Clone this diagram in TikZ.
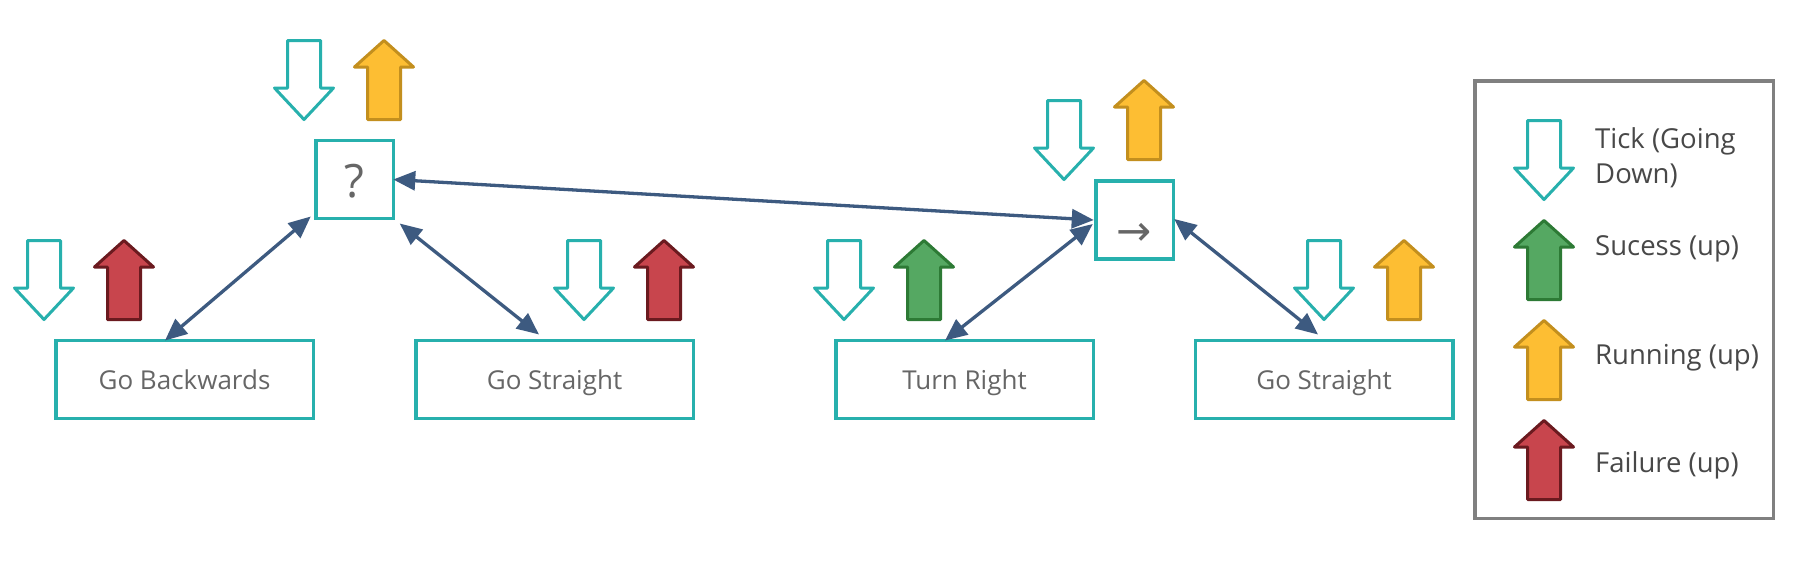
\documentclass[tikz,border=0pt]{standalone}
\usepackage{fontspec}
\setmainfont{Open Sans}
\newfontfamily\symfont{DejaVu Sans}
\usetikzlibrary{arrows.meta,calc}
\definecolor{tealc}{HTML}{27B0AD}
\definecolor{connc}{HTML}{3D5A80}
\definecolor{labelgray}{HTML}{666666}
\definecolor{legtext}{HTML}{484848}
\definecolor{legborder}{HTML}{808080}
\definecolor{yelf}{HTML}{FDBE33}
\definecolor{yeld}{HTML}{C38F1E}
\definecolor{grnf}{HTML}{55A862}
\definecolor{grnd}{HTML}{2D7A35}
\definecolor{redf}{HTML}{C8454D}
\definecolor{redd}{HTML}{6B1A1F}
\tikzset{
  box/.style={draw=tealc, line width=3.5pt, fill=white, inner sep=0pt, outer sep=0pt,
    text=labelgray, font=\fontsize{26}{31}\selectfont, text height=27.8pt, text depth=7.6pt,
    minimum height=78pt},
  conn/.style={draw=connc, line width=3.3pt,
    {Triangle[length=22pt,width=19pt]}-{Triangle[length=22pt,width=19pt]}},
  blk/.style={line width=3pt, line join=round},
  downarr/.pic={\path[blk, draw=tealc, fill=white] (-16.5,1.5) -- (16.5,1.5) -- (16.5,49) -- (29.5,49) -- (0,80.5) -- (-29.5,49) -- (-16.5,49) -- cycle;},
  uparr/.pic={\path[blk, pic actions] (0,1.5) -- (29.5,28) -- (16.5,28) -- (16.5,80.5) -- (-16.5,80.5) -- (-16.5,28) -- (-29.5,28) -- cycle;},
  legtxt/.style={text=legtext, font=\fontsize{27.5}{35}\selectfont, inner sep=0pt, align=left},
}
\begin{document}
\begin{tikzpicture}[x=1pt,y=-1pt]
\path[fill=white] (0,0) rectangle (1816,568);
\useasboundingbox (0,0) rectangle (1816,568);

% tree nodes
\node[box, minimum width=77.5pt, font=\fontsize{46}{55}\selectfont, text height=36pt, text depth=0pt] (q) at (354.5,179.5) {?};
\node[box, minimum width=77.5pt, font=\fontsize{42}{50}\symfont, text height=50pt, text depth=0pt] (seq) at (1134.5,220) {→};
\node[box, minimum width=257.5pt] (gb) at (184.5,379.5) {Go Backwards};
\node[box, minimum width=277.5pt] (gsl) at (554.5,379.5) {Go Straight};
\node[box, minimum width=257.5pt] (tr) at (964.5,379.5) {Turn Right};
\node[box, minimum width=257.5pt] (gsr) at (1324,379.5) {Go Straight};

% connectors
\draw[conn] ($(q.south west)+(-5,-2)$) -- ($(gb.north)+(-19.5,0)$);
\draw[conn] ($(q.south east)+(6.5,5)$) -- ($(gsl.north)+(-15.5,-6)$);
\draw[conn] (q.east) -- ($(seq.west)+(-2,0)$);
\draw[conn] ($(seq.west)+(-3,4)$) -- ($(tr.north)+(-19.5,0)$);
\draw[conn] ($(seq.east)+(1,-1)$) -- ($(gsr.north)+(-6,-6)$);

% status arrows
\pic at (304,39) {downarr};
\pic[draw=yeld, fill=yelf] at (384,39) {uparr};
\pic at (44,239) {downarr};
\pic[draw=redd, fill=redf] at (124,239) {uparr};
\pic at (584,239) {downarr};
\pic[draw=redd, fill=redf] at (664,239) {uparr};
\pic at (844,239) {downarr};
\pic[draw=grnd, fill=grnf] at (924,239) {uparr};
\pic at (1324,239) {downarr};
\pic[draw=yeld, fill=yelf] at (1404,239) {uparr};
\pic at (1064,99) {downarr};
\pic[draw=yeld, fill=yelf] at (1144,79) {uparr};

% legend
\node[draw=legborder, line width=3.5pt, minimum width=298.5pt, minimum height=437.5pt, inner sep=0pt, outer sep=0pt] (legend) at (1624,299.5) {};
\pic at (1544,119) {downarr};
\pic[draw=grnd, fill=grnf] at (1544,219) {uparr};
\pic[draw=yeld, fill=yelf] at (1544,319) {uparr};
\pic[draw=redd, fill=redf] at (1544,419) {uparr};
\node[legtxt, anchor=west] (ltick) at (1595,158) {Tick (Going\\Down)};
\node[legtxt, anchor=base west] (lsuc) at (1595,255) {Sucess (up)};
\node[legtxt, anchor=base west] (lrun) at (1595,364) {Running (up)};
\node[legtxt, anchor=base west] (lfail) at (1595,472) {Failure (up)};
\end{tikzpicture}
\end{document}
